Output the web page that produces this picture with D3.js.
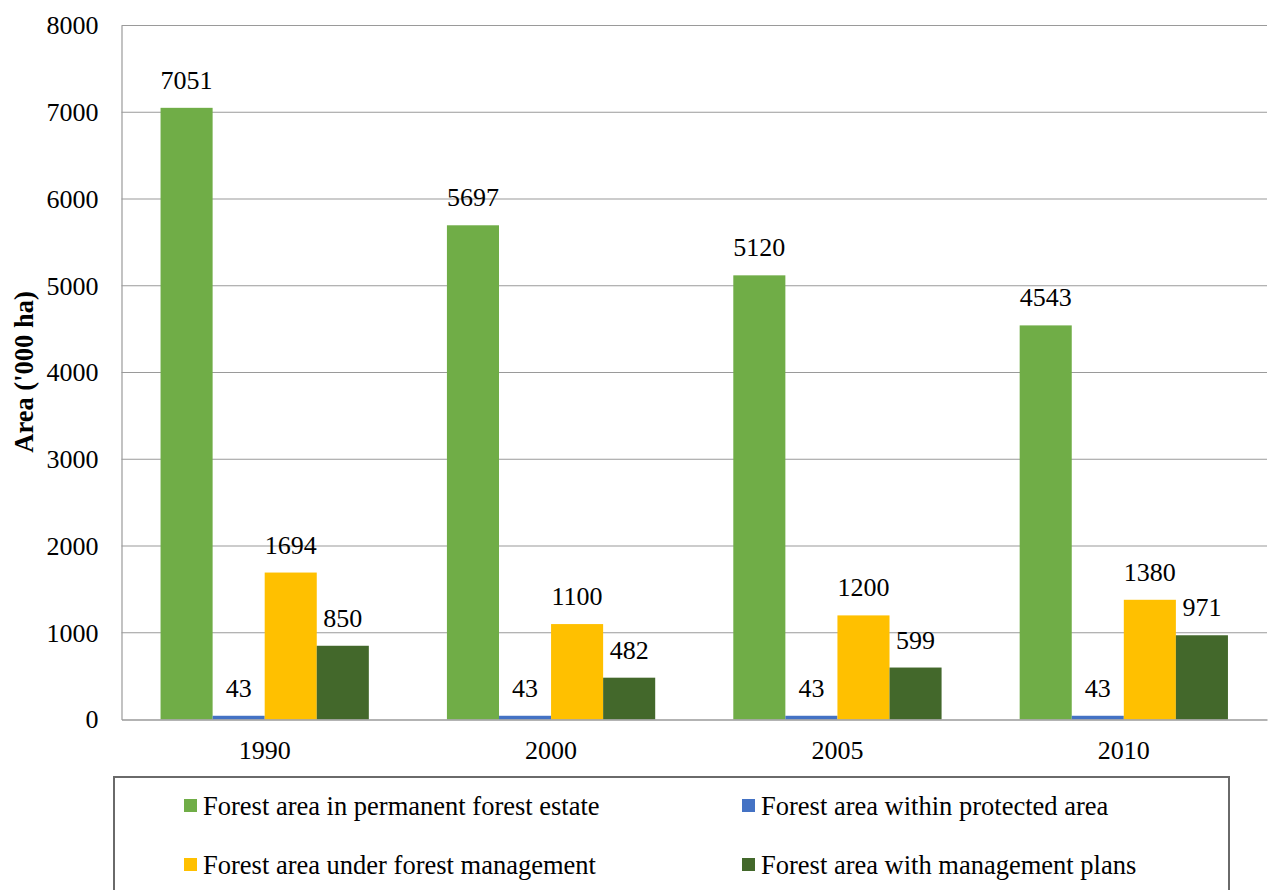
<!DOCTYPE html>
<html><head><meta charset="utf-8">
<script src="https://cdn.jsdelivr.net/npm/d3@7/dist/d3.min.js"></script>
<style>body{margin:0;background:#fff}svg{display:block}</style>
</head><body><svg id="c" width="1272" height="890"></svg>
<script>
const years = ["1990","2000","2005","2010"];
const seriesNames = ["Forest area in permanent forest estate","Forest area within protected area","Forest area under forest management","Forest area with management plans"];
const permanent = [7051,5697,5120,4543];
const protectedArea = [43,43,43,43];
const management = [1694,1100,1200,1380];
const plans = [850,482,599,971];
const colors = ["#70AD47","#4472C4","#FFC000","#43682B"];
const yTicks = [0,1000,2000,3000,4000,5000,6000,7000,8000];
const series = [permanent, protectedArea, management, plans];
const FONT = "Liberation Serif";

const svg = d3.select("#c");
const L=121.5, R=1267, T=25.5, B=719.5;
const x0 = d3.scaleBand().domain(years).range([L,R]).paddingInner(0.2727).paddingOuter(0.13636);
const x1 = d3.scaleBand().domain(d3.range(4)).range([0,x0.bandwidth()]);
const y = d3.scaleLinear().domain([0,8000]).range([B,T]);

svg.append("g").selectAll("line").data(yTicks.filter(d=>d>0)).join("line")
 .attr("x1",L).attr("x2",R).attr("y1",d=>y(d)).attr("y2",d=>y(d))
 .attr("stroke","#9a9a9a").attr("stroke-width",1.2);

const ya = svg.append("g").attr("transform",`translate(${L},0)`)
 .call(d3.axisLeft(y).tickValues(yTicks).tickFormat(d3.format("d")).tickSize(0).tickPadding(23));
ya.attr("font-family",FONT).attr("font-size",26);
ya.select(".domain").attr("stroke","#9a9a9a").attr("stroke-width",1.2);
ya.selectAll("text").attr("fill","#000");

const g = svg.append("g").attr("font-family",FONT).attr("font-size",26);
years.forEach((yr,i)=>{
  series.forEach((s,j)=>{
    g.append("rect").attr("x",x0(yr)+x1(j)).attr("width",x1.bandwidth())
     .attr("y",y(s[i])).attr("height",B-y(s[i])).attr("fill",colors[j]);
    g.append("text").attr("x",x0(yr)+x1(j)+x1.bandwidth()/2).attr("y",y(s[i])-19)
     .attr("text-anchor","middle").attr("fill","#000").text(s[i]);
  });
});

const xa = svg.append("g").attr("transform",`translate(0,${B})`).call(d3.axisBottom(x0).tickSize(0));
xa.attr("font-family",FONT).attr("font-size",26);
xa.select(".domain").attr("stroke","#9a9a9a").attr("stroke-width",1.5);
xa.selectAll("text").attr("fill","#000").attr("y",39.5).attr("dy",0);

svg.append("text").attr("transform","translate(33,372) rotate(-90)").attr("text-anchor","middle")
 .attr("font-family",FONT).attr("font-size",26.5).attr("font-weight","bold").text("Area ('000 ha)");

svg.append("rect").attr("x",114).attr("y",777).attr("width",1115).attr("height",130)
 .attr("fill","none").attr("stroke","#6a6a6a").attr("stroke-width",2);
const lg = svg.append("g").attr("font-family",FONT).attr("font-size",26.5);
const pos = [[184,799],[742,799],[184,858],[742,858]];
seriesNames.forEach((n,j)=>{
  lg.append("rect").attr("x",pos[j][0]).attr("y",pos[j][1]).attr("width",13).attr("height",13).attr("fill",colors[j]);
  lg.append("text").attr("x",pos[j][0]+19).attr("y",pos[j][1]+16).attr("fill","#000").text(n);
});
</script></body></html>
